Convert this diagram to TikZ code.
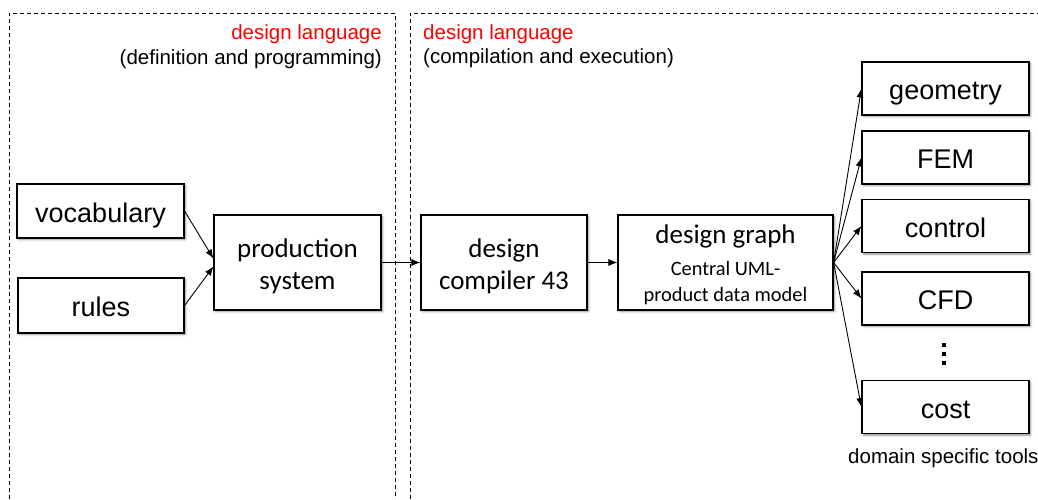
\documentclass[tikz,border=0pt]{standalone}
\usepackage{fontspec}
\setmainfont{Liberation Sans}
\newfontfamily\calibrifont{Carlito}
\usetikzlibrary{arrows.meta,shadows.blur}

% strut that lowers the first line of a two-line box
\newcommand{\firstlinestrut}[1]{\rule{0pt}{#1}}

\tikzset{
  box/.style={draw=black, line width=1.2pt, fill=white, inner sep=0pt,
    blur shadow={shadow xshift=1.6pt, shadow yshift=-1.6pt,
      shadow blur radius=2pt, shadow opacity=45}},
  onebox/.style={box, font=\fontsize{27}{32}\selectfont,
    text height=22.6pt, text depth=0pt},
  toolbox/.style={onebox, minimum width=167pt, minimum height=53pt},
  twobox/.style={box, align=center, minimum height=95pt,
    font=\calibrifont\fontsize{27}{32}\selectfont},
  region/.style={line width=0.85pt, dash pattern=on 4pt off 3pt},
  conn/.style={line width=0.9pt, -{Latex[length=9pt,width=7pt]}},
  title/.style={text=red, font=\fontsize{20.5}{24}\selectfont, inner sep=0pt},
  subtitle/.style={font=\fontsize{20.5}{24}\selectfont, inner sep=0pt},
}

\begin{document}
\begin{tikzpicture}[x=1pt, y=-1pt]
  \useasboundingbox (0,0) rectangle (1038,499);

  % the two language regions (open at the bottom and right)
  \draw[region] (9,499) -- (9,13) -- (395,13) -- (395,499);
  \draw[region] (410,499) -- (410,13) -- (1038,13);

  % region headings
  \node[title, anchor=base east] (defhead) at (382,39) {design language};
  \node[subtitle, anchor=base east] (defsub) at (382,64) {(definition and programming)};
  \node[title, anchor=base west] (exehead) at (423,39) {design language};
  \node[subtitle, anchor=base west] (exesub) at (423,63) {(compilation and execution)};

  % definition side
  \node[onebox, minimum width=167pt, minimum height=54pt] (vocab) at (100.5,211) {vocabulary};
  \node[onebox, minimum width=166pt, minimum height=55pt] (rules) at (101,305.5) {rules};
  \node[twobox, minimum width=167pt] (prod) at (297.5,262.5)
    {\firstlinestrut{26pt}production\\system};

  % execution side
  \node[twobox, minimum width=166pt] (comp) at (504,262.5)
    {\firstlinestrut{26pt}design\\compiler 43};
  \node[box, align=center, minimum width=215pt, minimum height=95pt,
        font=\calibrifont\fontsize{20.4}{26}\selectfont] (graph) at (725.5,262.5)
    {{\fontsize{27}{32}\selectfont\firstlinestrut{24pt}design graph}\\[6pt]Central UML-\\product data model};

  % domain specific tools
  \node[toolbox] (geom) at (945.5,88.5) {geometry};
  \node[toolbox] (fem)  at (945.5,157.5) {FEM};
  \node[toolbox] (ctrl) at (945.5,226) {control};
  \node[toolbox] (cfd)  at (945.5,298.5) {CFD};
  \node[toolbox] (cost) at (945.5,407) {cost};
  \foreach \yy in {345,354,363}
    \fill (941.5,\yy-2) rectangle (945.5,\yy+2);
  \node[subtitle, anchor=base west] (tools) at (848,463) {domain specific tools};

  % connectors
  \draw[conn] (vocab.east) -- ([yshift=4pt]prod.west);
  \draw[conn] (rules.east) -- ([yshift=-4pt]prod.west);
  \draw[conn] (prod.east) -- (comp.west);
  \draw[conn] (comp.east) -- (graph.west);
  \foreach \t in {geom,fem,ctrl,cfd,cost}
    \draw[conn] (graph.east) -- (\t.west);
\end{tikzpicture}
\end{document}
